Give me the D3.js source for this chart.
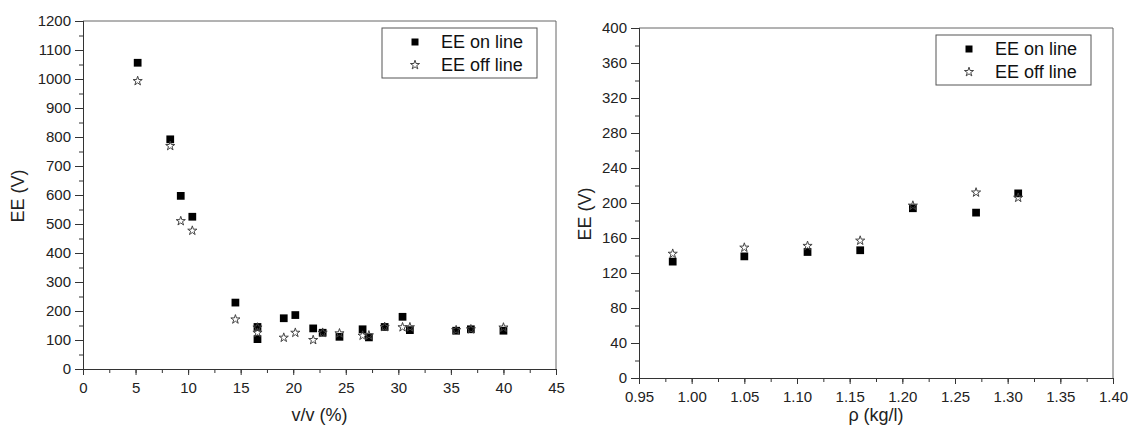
<!DOCTYPE html>
<html lang="en">
<head>
<meta charset="utf-8">
<title>EE vs v/v and density</title>
<script src="https://cdn.jsdelivr.net/npm/d3@7"></script>
<style>
  body { margin: 0; background: #fff; }
  svg { display: block; font-family: "Liberation Sans", Arial, sans-serif; }
  .tick text { font-size: 15px; fill: #222; }
  .axis path, .axis line { stroke: #333; }
  .title { font-size: 18px; fill: #222; }
  .legend text { font-size: 18px; fill: #111; }
</style>
</head>
<body>
<div id="chart"></div>
<script>
// left panel: EE vs v/v (%)
var vv       = [5.2, 8.3, 9.3, 10.4, 14.5, 16.6, 16.6, 19.1, 20.2, 21.9, 22.8, 24.4, 26.6, 27.2, 28.7, 30.4, 31.1, 35.5, 36.9, 40.0];
var eeOnVv   = [1056, 792, 597, 525, 229, 103, 145, 175, 186, 140, 125, 111, 137, 109, 145, 180, 134, 132, 137, 132];
var eeOffVv  = [993, 769, 510, 477, 171, 125, 143, 108, 125, 100, 125, 123, 115, 116, 145, 144, 144, 134, 137, 143];

// right panel: EE vs density
var rho      = [0.982, 1.05, 1.11, 1.16, 1.21, 1.27, 1.31];
var eeOnRho  = [133, 139, 144, 146, 194, 189, 211];
var eeOffRho = [142, 149, 151, 157, 197, 212, 206];

var seriesNames = ["EE on line", "EE off line"];

var svg = d3.select("#chart").append("svg")
    .attr("width", 1131)
    .attr("height", 428);

var square = d3.symbol().type(d3.symbolSquare).size(60);
var star = d3.symbol().type(d3.symbolStar).size(26);

function panel(opt) {
    var x = d3.scaleLinear().domain(opt.xDomain).range([opt.left, opt.right]);
    var y = d3.scaleLinear().domain(opt.yDomain).range([opt.bottom, opt.top]);

    // frame top/right
    svg.append("path")
       .attr("d", "M" + opt.left + "," + opt.top + "H" + opt.right + "V" + opt.bottom)
       .attr("fill", "none")
       .attr("stroke", "#666")
       .attr("stroke-width", 1);

    // minor ticks
    svg.append("g").attr("class", "axis")
       .attr("transform", "translate(0," + opt.bottom + ")")
       .call(d3.axisBottom(x).tickValues(d3.range(opt.xDomain[0], opt.xDomain[1] + 1e-9, opt.xStep / 2)).tickSize(4).tickFormat(""));
    svg.append("g").attr("class", "axis")
       .attr("transform", "translate(" + opt.left + ",0)")
       .call(d3.axisLeft(y).tickValues(d3.range(opt.yDomain[0], opt.yDomain[1] + 1e-9, opt.yStep / 2)).tickSize(4).tickFormat(""));

    // major ticks
    svg.append("g").attr("class", "axis")
       .attr("transform", "translate(0," + opt.bottom + ")")
       .call(d3.axisBottom(x).tickValues(d3.range(opt.xDomain[0], opt.xDomain[1] + 1e-9, opt.xStep))
             .tickSize(6).tickPadding(7).tickFormat(d3.format(opt.xFormat)));
    svg.append("g").attr("class", "axis")
       .attr("transform", "translate(" + opt.left + ",0)")
       .call(d3.axisLeft(y).tickValues(d3.range(opt.yDomain[0], opt.yDomain[1] + 1e-9, opt.yStep))
             .tickSize(8).tickPadding(4).tickFormat(d3.format("d")));

    // axis titles
    svg.append("text").attr("class", "title")
       .attr("x", (opt.left + opt.right) / 2).attr("y", opt.xTitleY)
       .attr("text-anchor", "middle").text(opt.xTitle);
    svg.append("text").attr("class", "title")
       .attr("transform", "translate(" + opt.yTitleX + "," + opt.yTitleMid + ") rotate(-90)")
       .attr("text-anchor", "middle").text("EE (V)");

    // points
    svg.append("g").selectAll("path")
       .data(opt.xs)
       .join("path")
       .attr("transform", function(d, i) { return "translate(" + x(d) + "," + y(opt.on[i]) + ")"; })
       .attr("d", square)
       .attr("fill", "#000");
    svg.append("g").selectAll("path")
       .data(opt.xs)
       .join("path")
       .attr("transform", function(d, i) { return "translate(" + x(d) + "," + y(opt.off[i]) + ")"; })
       .attr("d", star)
       .attr("fill", "none")
       .attr("stroke", "#444")
       .attr("stroke-width", 1);

    // legend
    var lg = svg.append("g").attr("class", "legend")
       .attr("transform", "translate(" + opt.legend[0] + "," + opt.legend[1] + ")");
    lg.append("rect")
      .attr("width", 155).attr("height", 50)
      .attr("fill", "#fff").attr("stroke", "#555");
    lg.append("path").attr("transform", "translate(33,14)").attr("d", d3.symbol().type(d3.symbolSquare).size(49)).attr("fill", "#000");
    lg.append("path").attr("transform", "translate(33,37)").attr("d", star).attr("fill", "none").attr("stroke", "#444");
    lg.selectAll("text").data(seriesNames).join("text")
      .attr("x", 59).attr("y", function(d, i) { return 20 + i * 23; })
      .text(function(d) { return d; });
}

panel({
    left: 83, right: 556, top: 21, bottom: 369,
    xDomain: [0, 45], xStep: 5, xFormat: "d",
    yDomain: [0, 1200], yStep: 100,
    xs: vv, on: eeOnVv, off: eeOffVv,
    xTitle: "v/v (%)", xTitleY: 421, yTitleX: 24, yTitleMid: 196,
    legend: [382, 28]
});

panel({
    left: 639, right: 1113, top: 28, bottom: 378,
    xDomain: [0.95, 1.40], xStep: 0.05, xFormat: ".2f",
    yDomain: [0, 400], yStep: 40,
    xs: rho, on: eeOnRho, off: eeOffRho,
    xTitle: "\u03c1 (kg/l)", xTitleY: 421, yTitleX: 591, yTitleMid: 214,
    legend: [936, 35]
});
</script>
</body>
</html>
